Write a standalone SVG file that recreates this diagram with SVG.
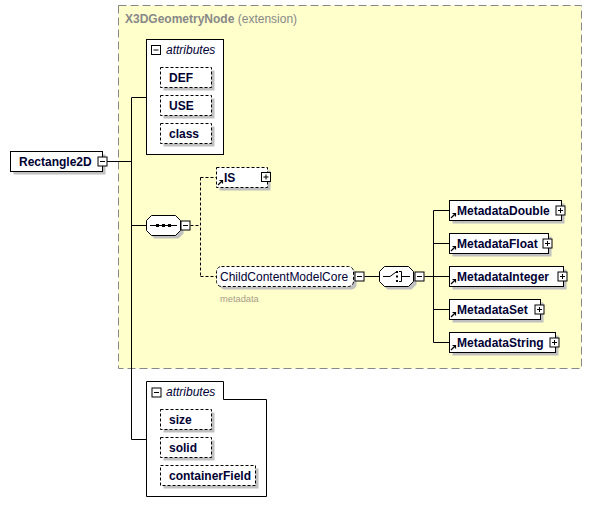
<svg xmlns="http://www.w3.org/2000/svg" width="592" height="516" viewBox="0 0 592 516">
<defs>
<style>
.t{font-family:"Liberation Sans",Arial,sans-serif;font-size:12px;font-weight:bold;fill:#000033}
.it{font-family:"Liberation Sans",Arial,sans-serif;font-size:12px;font-style:italic;fill:#000033}
.n{font-family:"Liberation Sans",Arial,sans-serif;font-size:12px;fill:#000033}
.box{fill:#fff;stroke:#000;stroke-width:1}
.dbox{fill:#fff;stroke:#000;stroke-width:1;stroke-dasharray:3,2}
.sh{fill:#c0c0c0}
.ln{fill:none;stroke:#000;stroke-width:1}
.dl{fill:none;stroke:#000;stroke-width:1;stroke-dasharray:3,2}
.ic{fill:#fff;stroke:#000;stroke-width:1}
</style>
<g id="minus"><rect class="ic" x="-4.5" y="-4.5" width="9" height="9"/><path class="ln" d="M-2.5,0H2.5"/></g>
<g id="plus"><rect class="ic" x="-4.5" y="-4.5" width="9" height="9"/><path class="ln" d="M-2.5,0H2.5M0,-2.5V2.5"/></g>
<path id="arr" d="M0,5L4,1M1.5,0.5H4.5V3.5" fill="none" stroke="#000" stroke-width="1.2"/>
</defs>

<g id="ext">
<rect x="118.5" y="5.5" width="463" height="363" fill="#ffffcc" stroke="#888" stroke-dasharray="8,4"/>
<text x="125" y="23" font-family="Liberation Sans,Arial,sans-serif" font-size="12" fill="#888"><tspan font-weight="bold">X3DGeometryNode</tspan> (extension)</text>
</g>

<g id="connectors">
<path class="ln" d="M107,161.5H131.5M131.5,97.5V439.5M131.5,97.5H146.5M131.5,225.5H146.5M131.5,439.5H146.5"/>
<path class="dl" d="M190.5,225.5H200.5M200.5,177.5V276.5M200.5,177.5H216.5M200.5,276.5H216.5"/>
<path class="ln" d="M364.5,276.5H379.5M424.5,276.5H433.5M433.5,210.5V342.5M433.5,210.5H449.5M433.5,243.5H449.5M433.5,276.5H449.5M433.5,309.5H449.5M433.5,342.5H449.5"/>
</g>

<g id="Rectangle2D">
<rect class="sh" x="13.5" y="154.5" width="92" height="20"/>
<rect class="box" x="10.5" y="151.5" width="92" height="20"/>
<text class="t" x="19" y="166">Rectangle2D</text>
<use href="#minus" x="102.5" y="161.5"/>
</g>

<g id="attributes1">
<rect class="box" x="146.5" y="39.5" width="77" height="115"/>
<use href="#minus" x="156" y="50"/>
<text class="it" x="166" y="54">attributes</text>
</g>
<g id="DEF">
<rect class="sh" x="163.5" y="70.5" width="51" height="20"/>
<rect class="dbox" x="160.5" y="67.5" width="51" height="20"/>
<text class="t" x="169" y="82">DEF</text>
</g>
<g id="USE">
<rect class="sh" x="163.5" y="98.5" width="51" height="20"/>
<rect class="dbox" x="160.5" y="95.5" width="51" height="20"/>
<text class="t" x="169" y="110">USE</text>
</g>
<g id="class">
<rect class="sh" x="163.5" y="126.5" width="51" height="20"/>
<rect class="dbox" x="160.5" y="123.5" width="51" height="20"/>
<text class="t" x="169" y="138">class</text>
</g>

<g id="sequence">
<path class="sh" d="M154.5,218.5H178.5L183.5,223.5V233.5L178.5,238.5H154.5L149.5,233.5V223.5Z"/>
<path class="box" d="M151.5,215.5H175.5L180.5,220.5V230.5L175.5,235.5H151.5L146.5,230.5V220.5Z"/>
<path class="ln" d="M150,225.5H177"/>
<rect x="156" y="224" width="3" height="3" fill="#000"/>
<rect x="162" y="224" width="3" height="3" fill="#000"/>
<rect x="168" y="224" width="3" height="3" fill="#000"/>
<use href="#minus" x="185.5" y="225.5"/>
</g>

<g id="IS">
<rect class="sh" x="219.5" y="170.5" width="51" height="20"/>
<rect class="dbox" x="216.5" y="167.5" width="51" height="20"/>
<use href="#arr" x="218" y="180"/>
<text class="t" x="224" y="182">IS</text>
<use href="#plus" x="266" y="177"/>
</g>

<g id="ChildContentModelCore">
<rect class="sh" x="219.5" y="269.5" width="137" height="20" rx="5"/>
<rect class="dbox" x="216.5" y="266.5" width="137" height="20" rx="5"/>
<text class="n" x="220" y="281">ChildContentModelCore</text>
<use href="#minus" x="359.5" y="276.5"/>
<text x="220" y="302" font-family="Liberation Sans,Arial,sans-serif" font-size="9.3" fill="#a89c88">metadata</text>
</g>

<g id="choice">
<path class="sh" d="M387.5,269.5H411.5L416.5,274.5V284.5L411.5,289.5H387.5L382.5,284.5V274.5Z"/>
<path class="box" d="M384.5,266.5H408.5L413.5,271.5V281.5L408.5,286.5H384.5L379.5,281.5V271.5Z"/>
<path class="ln" d="M383,276.5H390L396,272M399,271.5H401.5V281.5H399M401.5,276.5H410"/>
<rect x="396" y="271" width="2" height="2" fill="#000"/>
<rect x="396" y="275.5" width="2" height="2" fill="#000"/>
<rect x="396" y="280" width="2" height="2" fill="#000"/>
<use href="#minus" x="419.5" y="276.5"/>
</g>

<g id="MetadataDouble">
<rect class="sh" x="452.5" y="203.5" width="112" height="20"/>
<rect class="box" x="449.5" y="200.5" width="112" height="20"/>
<use href="#arr" x="451" y="213"/>
<text class="t" x="457" y="215">MetadataDouble</text>
<use href="#plus" x="560.5" y="210.5"/>
</g>
<g id="MetadataFloat">
<rect class="sh" x="452.5" y="236.5" width="99" height="20"/>
<rect class="box" x="449.5" y="233.5" width="99" height="20"/>
<use href="#arr" x="451" y="246"/>
<text class="t" x="457" y="248">MetadataFloat</text>
<use href="#plus" x="547.5" y="243.5"/>
</g>
<g id="MetadataInteger">
<rect class="sh" x="452.5" y="269.5" width="114" height="20"/>
<rect class="box" x="449.5" y="266.5" width="114" height="20"/>
<use href="#arr" x="451" y="279"/>
<text class="t" x="457" y="281">MetadataInteger</text>
<use href="#plus" x="562.5" y="276.5"/>
</g>
<g id="MetadataSet">
<rect class="sh" x="452.5" y="302.5" width="91" height="20"/>
<rect class="box" x="449.5" y="299.5" width="91" height="20"/>
<use href="#arr" x="451" y="312"/>
<text class="t" x="457" y="314">MetadataSet</text>
<use href="#plus" x="539.5" y="309.5"/>
</g>
<g id="MetadataString">
<rect class="sh" x="452.5" y="335.5" width="106" height="20"/>
<rect class="box" x="449.5" y="332.5" width="106" height="20"/>
<use href="#arr" x="451" y="345"/>
<text class="t" x="457" y="347">MetadataString</text>
<use href="#plus" x="554.5" y="342.5"/>
</g>

<g id="attributes2">
<path class="box" d="M146.5,381.5H223.5V399.5H266.5V496.5H146.5Z"/>
<use href="#minus" x="156.5" y="392.5"/>
<text class="it" x="166" y="396">attributes</text>
</g>
<g id="size">
<rect class="sh" x="163.5" y="412.5" width="51" height="20"/>
<rect class="dbox" x="160.5" y="409.5" width="51" height="20"/>
<text class="t" x="169" y="424">size</text>
</g>
<g id="solid">
<rect class="sh" x="163.5" y="440.5" width="51" height="20"/>
<rect class="dbox" x="160.5" y="437.5" width="51" height="20"/>
<text class="t" x="169" y="452">solid</text>
</g>
<g id="containerField">
<rect class="sh" x="163.5" y="468.5" width="95" height="20"/>
<rect class="dbox" x="160.5" y="465.5" width="95" height="20"/>
<text class="t" x="169" y="480">containerField</text>
</g>
</svg>
